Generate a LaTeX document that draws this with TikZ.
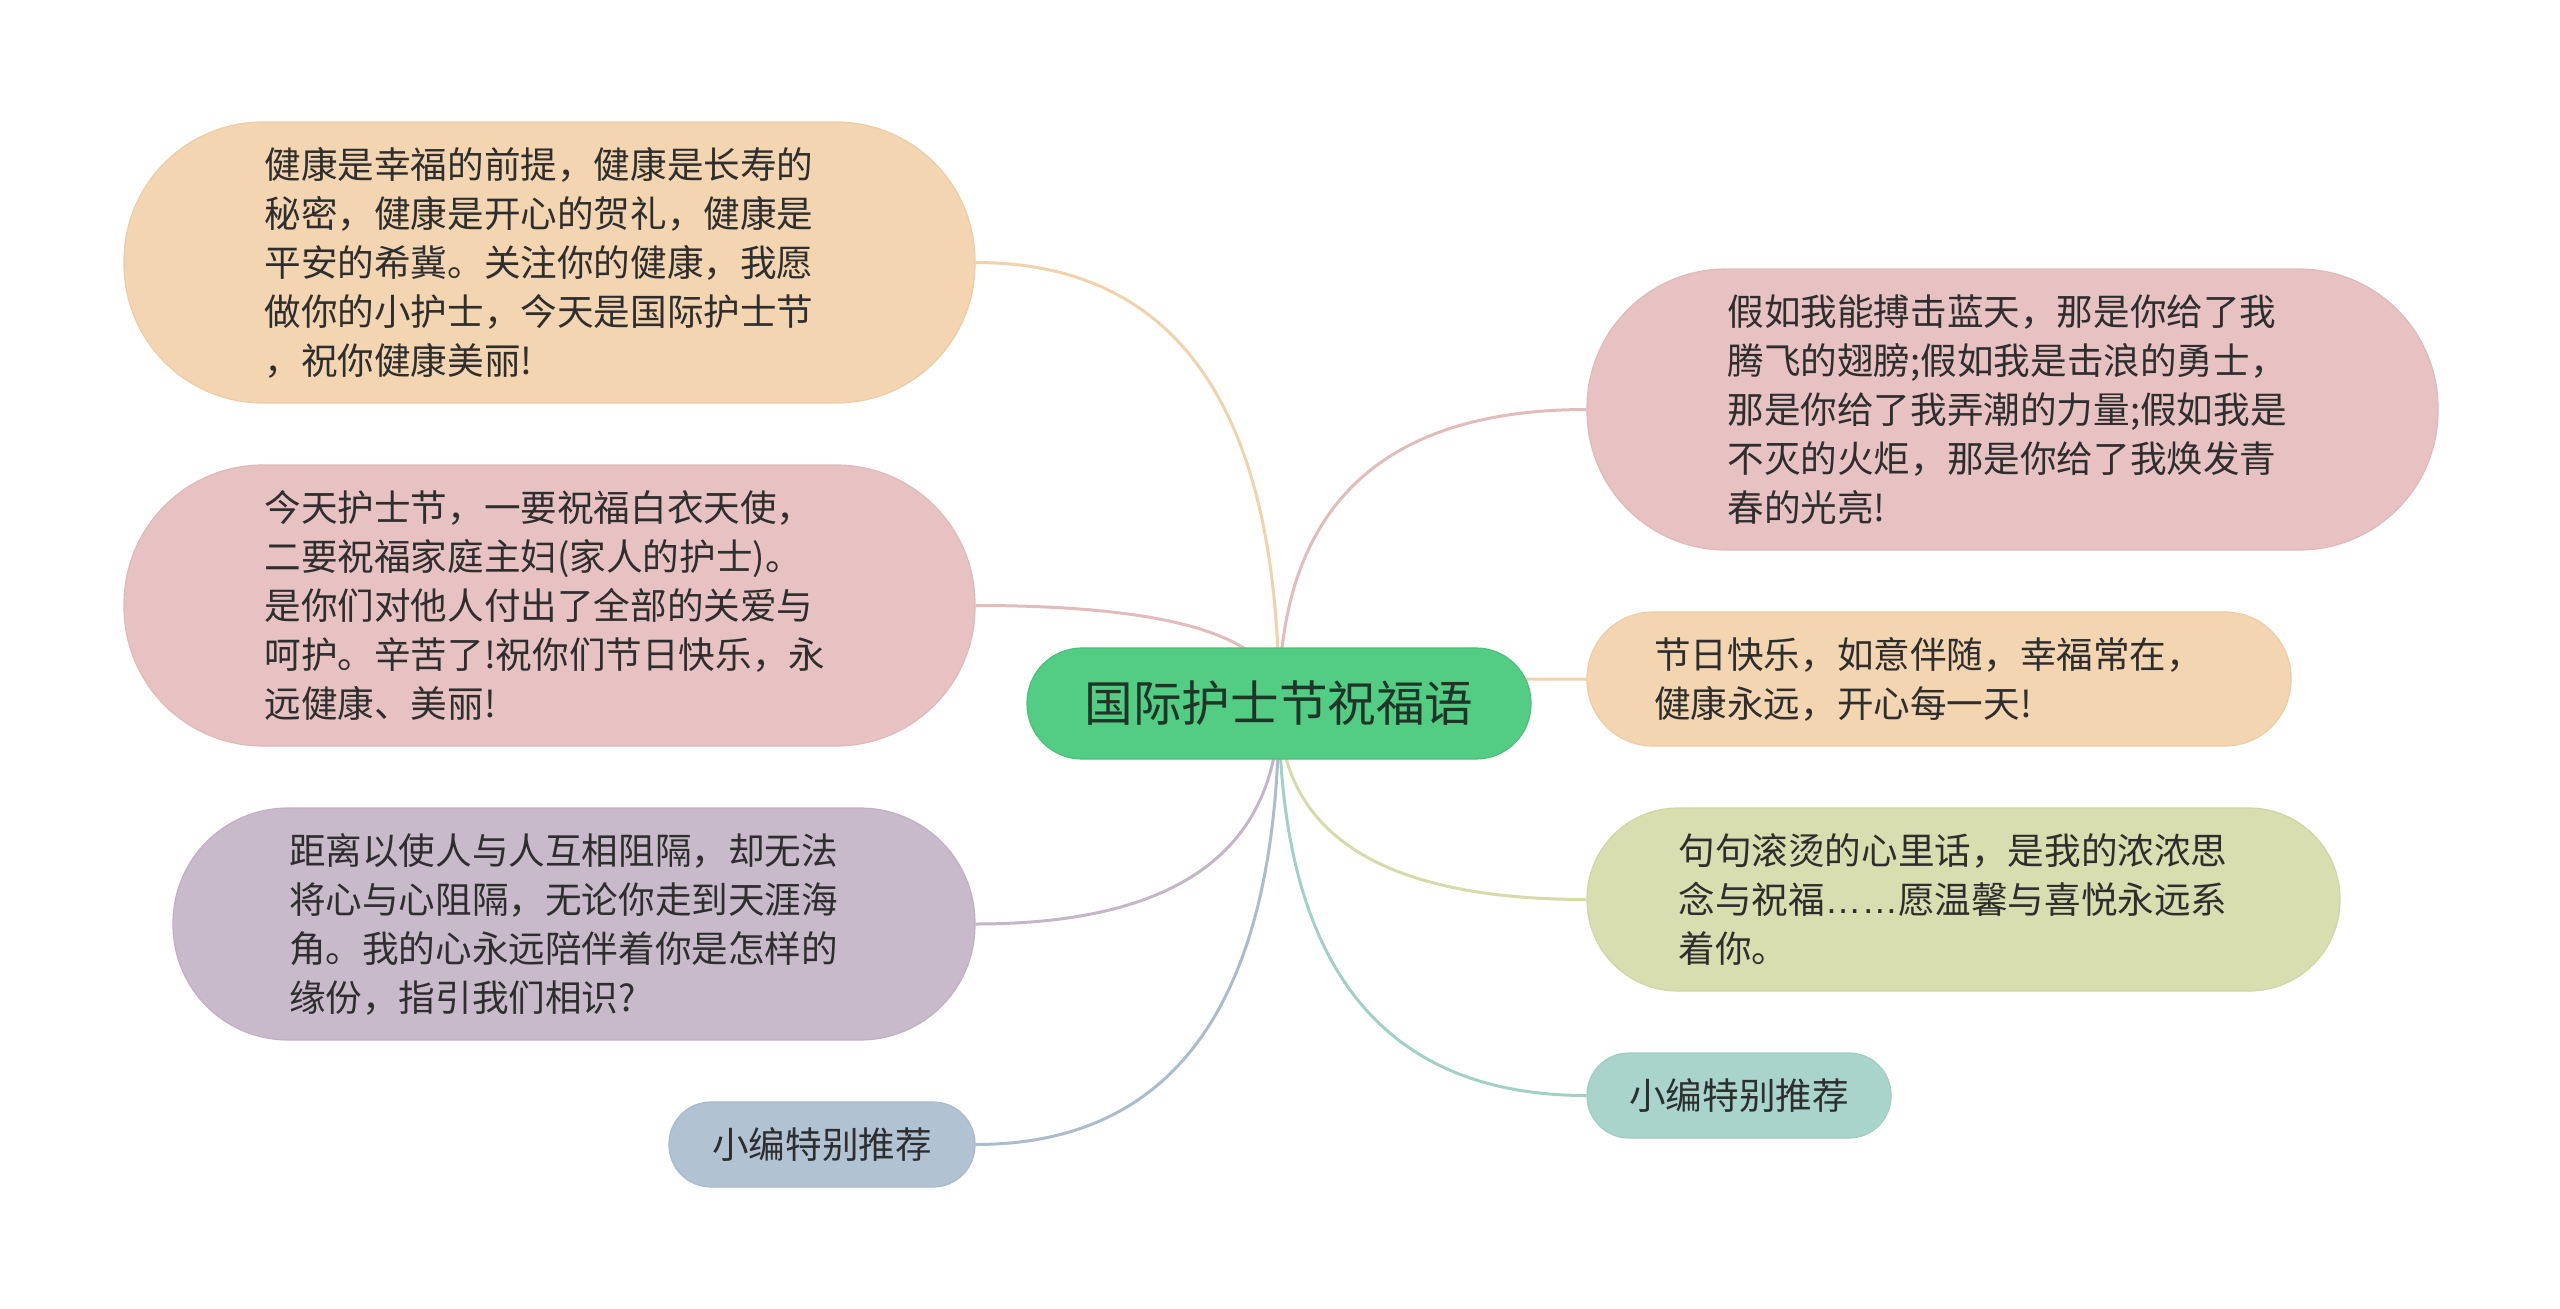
\documentclass[tikz,border=0pt]{standalone}
\usepackage{fontspec}
\newfontfamily\cjk{Noto Sans CJK SC}
\newfontfamily\latinfnt{Liberation Sans}
\usetikzlibrary{backgrounds,calc}
\definecolor{txt}{HTML}{2E2E2E}
\definecolor{ctxt}{HTML}{1F3527}
\definecolor{peach}{HTML}{F3D5B1}
\definecolor{peachd}{HTML}{EDCDA6}
\definecolor{peachl}{HTML}{F0D3AC}
\definecolor{pink}{HTML}{E8C2C3}
\definecolor{pinkd}{HTML}{E0B9BA}
\definecolor{pinkl}{HTML}{E2BCBD}
\definecolor{lav}{HTML}{C8BACB}
\definecolor{lavd}{HTML}{C0B1C3}
\definecolor{lavl}{HTML}{C4B6C7}
\definecolor{bgrey}{HTML}{B1C2D3}
\definecolor{bgreyd}{HTML}{A8B9CB}
\definecolor{bgreyl}{HTML}{ABBCCD}
\definecolor{olive}{HTML}{D9DEB0}
\definecolor{olived}{HTML}{D1D6A6}
\definecolor{olivel}{HTML}{D6DBA9}
\definecolor{mint}{HTML}{A9D4CB}
\definecolor{mintd}{HTML}{A0CCC2}
\definecolor{mintl}{HTML}{A3D0C6}
\definecolor{cgreen}{HTML}{53CD83}
\definecolor{cgreend}{HTML}{4BC07A}
\begin{document}
\begin{tikzpicture}[x=1pt,y=-1pt,
  box/.style={rectangle, inner sep=0pt, align=left, text=txt,
    font=\cjk\fontsize{36.6pt}{49pt}\selectfont, line width=1.2pt},
  conn/.style={line width=3pt}]
\useasboundingbox (0,0) rectangle (2560,1309);

% central
\node[box, fill=cgreen, draw=cgreend, minimum width=504, minimum height=111,
  rounded corners=55, align=center, text=ctxt,
  font=\cjk\fontsize{48.6pt}{58pt}\selectfont] (c) at (1279,703.5) {国际护士节祝福语};

% left
\node[box, fill=peach, draw=peachd, minimum width=851, minimum height=281,
  rounded corners=139, text width=570] (l1) at (549.5,262.5)
  {健康是幸福的前提，健康是长寿的\\秘密，健康是开心的贺礼，健康是\\平安的希冀。关注你的健康，我愿\\做你的小护士，今天是国际护士节\\，祝你健康美丽!};
\node[box, fill=pink, draw=pinkd, minimum width=851, minimum height=281,
  rounded corners=139, text width=570] (l2) at (549.5,605.5)
  {今天护士节，一要祝福白衣天使，\\二要祝福家庭主妇(家人的护士)。\\是你们对他人付出了全部的关爱与\\呵护。辛苦了!祝你们节日快乐，永\\远健康、美丽!};
\node[box, fill=lav, draw=lavd, minimum width=802, minimum height=232,
  rounded corners=115, text width=570] (l3) at (574,924)
  {距离以使人与人互相阻隔，却无法\\将心与心阻隔，无论你走到天涯海\\角。我的心永远陪伴着你是怎样的\\缘份，指引我们相识?};
\node[box, fill=bgrey, draw=bgreyd, minimum width=306, minimum height=85,
  rounded corners=42] (l4) at (822,1144.5) {小编特别推荐};

% right
\node[box, fill=pink, draw=pinkd, minimum width=851, minimum height=281,
  rounded corners=139, text width=570] (r1) at (2012.5,409.5)
  {假如我能搏击蓝天，那是你给了我\\腾飞的翅膀;假如我是击浪的勇士，\\那是你给了我弄潮的力量;假如我是\\不灭的火炬，那是你给了我焕发青\\春的光亮!};
\node[box, fill=peach, draw=peachd, minimum width=704, minimum height=134,
  rounded corners=66, text width=570] (r2) at (1939,679)
  {节日快乐，如意伴随，幸福常在，\\健康永远，开心每一天!};
\node[box, fill=olive, draw=olived, minimum width=753, minimum height=183,
  rounded corners=91, text width=570] (r3) at (1963.5,899.5)
  {句句滚烫的心里话，是我的浓浓思\\念与祝福{\latinfnt ……}愿温馨与喜悦永远系\\着你。};
\node[box, fill=mint, draw=mintd, minimum width=304, minimum height=85,
  rounded corners=42] (r4) at (1739,1095.5) {小编特别推荐};

\begin{pgfonlayer}{background}
\fill[white] (0,0) rectangle (2560,1309);
\foreach \t/\a/\col in {l1/east/peachl, l2/east/pinkl, l3/east/lavl, l4/east/bgreyl,
                        r1/west/pinkl, r2/west/peachl, r3/west/olivel, r4/west/mintl}{
  \draw[conn, \col] (c.center)
    .. controls ($(c.center)!0.667!(c.center |- \t.\a)$)
       and ($(\t.\a)!0.667!(c.center |- \t.\a)$) .. (\t.\a);
}
\end{pgfonlayer}
\end{tikzpicture}
\end{document}
